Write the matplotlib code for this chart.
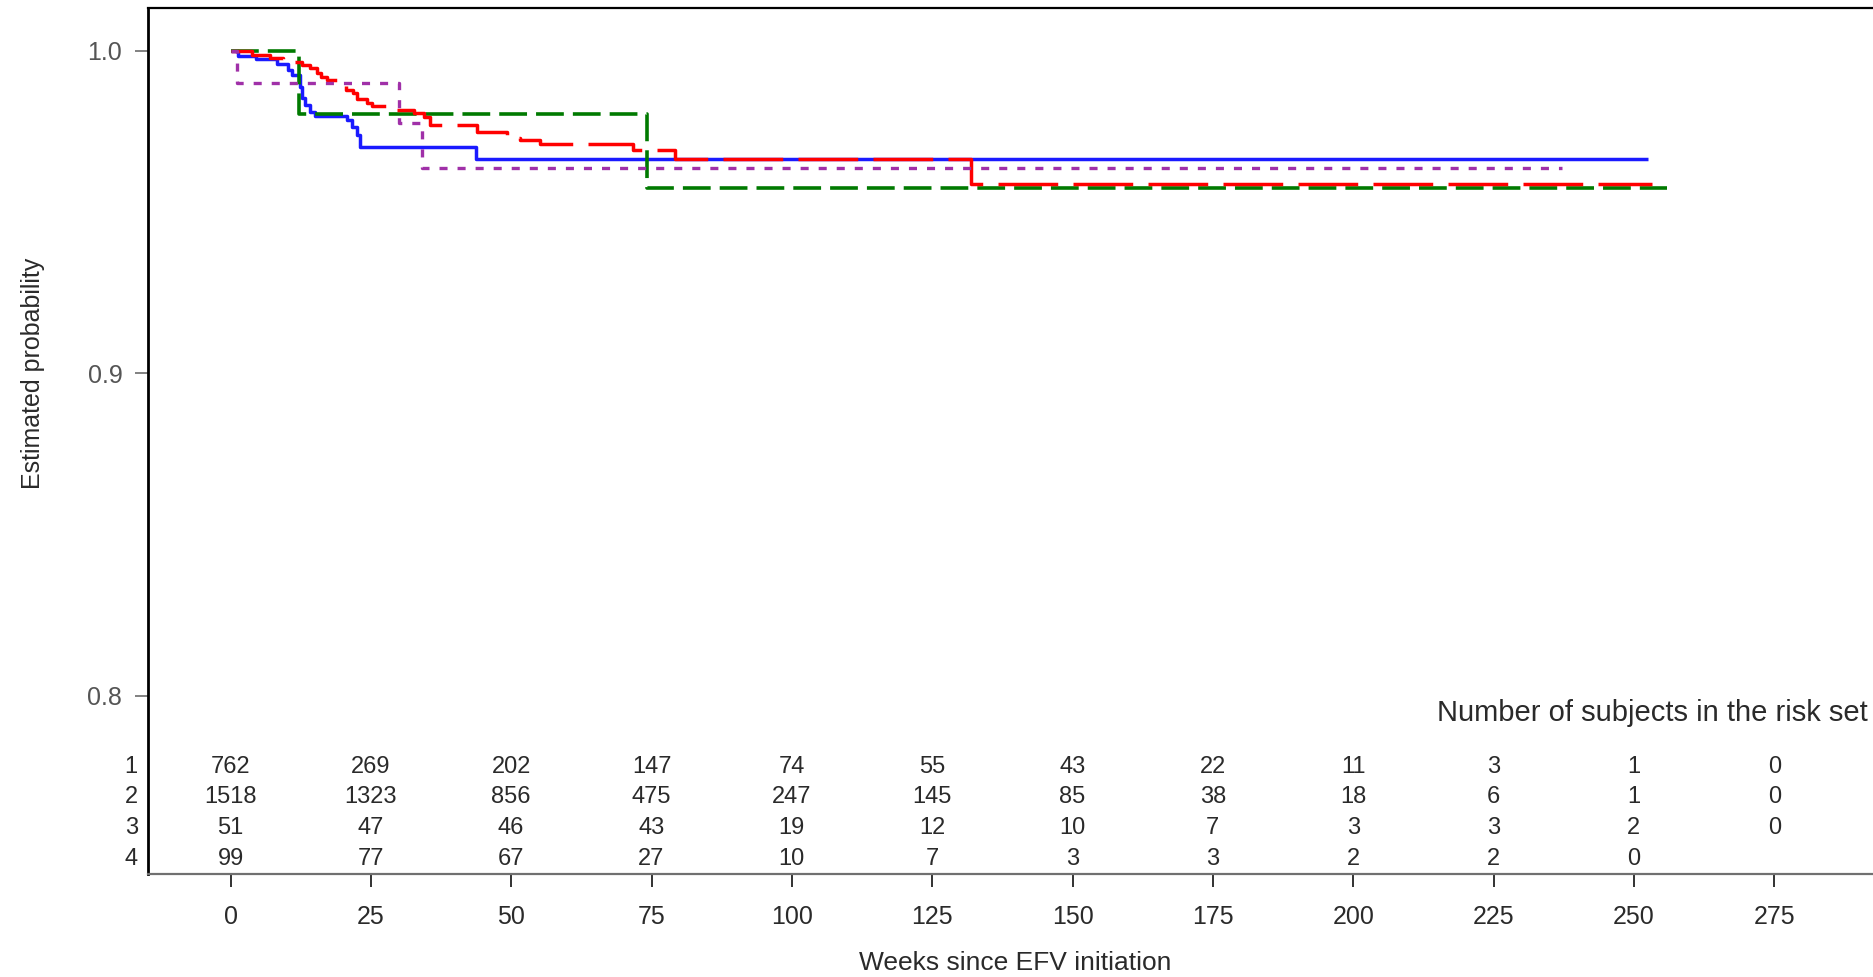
import matplotlib
matplotlib.use("Agg")
import matplotlib.pyplot as plt

plt.rcParams['font.family'] = ['Liberation Sans', 'DejaVu Sans']
plt.rcParams['lines.scale_dashes'] = False

# ---- data ----
blue_x = [0, 1.4, 4.5, 8.2, 10.3, 10.9, 12.4, 12.7, 13.3, 14.2, 15.0, 20.7, 21.6, 22.5, 23.1, 43.7, 252.6]
blue_y = [1.0, 0.9985, 0.9975, 0.996, 0.9941, 0.9926, 0.9889, 0.9853, 0.9833, 0.9812, 0.9798,
          0.9786, 0.9765, 0.974, 0.9703, 0.9666, 0.9666]

red_x = [0, 3.8, 7.0, 9.4, 12.7, 14.2, 15.4, 16.2, 17.1, 19.5, 20.6, 21.9, 22.5, 24.3, 25.2,
         28.5, 32.6, 34.5, 35.6, 43.9, 49.2, 51.5, 55.1, 71.7, 79.1, 132.0, 253.2]
red_y = [1.0, 0.9988, 0.9977, 0.9967, 0.9957, 0.9946, 0.9931, 0.9918, 0.9910, 0.9895, 0.9880,
         0.9869, 0.9852, 0.9840, 0.9828, 0.9818, 0.9808, 0.9796, 0.9771, 0.9747, 0.9731, 0.9724,
         0.9711, 0.9694, 0.9666, 0.9588, 0.9588]

green_x = [0, 12.2, 74.2, 255.9]
green_y = [1.0, 0.9804, 0.9576, 0.9576]

purple_x = [0, 1.2, 30.0, 34.2, 237.2]
purple_y = [1.0, 0.9899, 0.9775, 0.9636, 0.9636]

x_ticks = [0, 25, 50, 75, 100, 125, 150, 175, 200, 225, 250, 275]
y_ticks = [0.8, 0.9, 1.0]
y_ticklabels = ["0.8", "0.9", "1.0"]

risk_labels = ["1", "2", "3", "4"]
risk_1 = [762, 269, 202, 147, 74, 55, 43, 22, 11, 3, 1, 0]
risk_2 = [1518, 1323, 856, 475, 247, 145, 85, 38, 18, 6, 1, 0]
risk_3 = [51, 47, 46, 43, 19, 12, 10, 7, 3, 3, 2, 0]
risk_4 = [99, 77, 67, 27, 10, 7, 3, 3, 2, 2, 0]
risk_rows = [risk_1, risk_2, risk_3, risk_4]

# ---- figure ----
W, H = 1873, 977
fig = plt.figure(figsize=(W / 100, H / 100), dpi=100)
left_px, right_px, top_px, bottom_px = 148, 1873, 8, 874
ax = fig.add_axes([left_px / W, 1 - bottom_px / H, (right_px - left_px) / W, (bottom_px - top_px) / H])

txt_color = '#2a2a2a'

ax.plot(blue_x, blue_y, drawstyle='steps-post', color='#1a1aff', lw=2.5, zorder=3,
        solid_capstyle='butt')
ax.plot(green_x, green_y, drawstyle='steps-post', color='#007a00', lw=2.6, zorder=4,
        linestyle=(0, (20, 6.5)), dash_capstyle='butt')
ax.plot(red_x, red_y, drawstyle='steps-post', color='#ff0000', lw=2.5, zorder=5,
        linestyle=(0, (43, 11)), dash_capstyle='butt')
ax.plot(purple_x, purple_y, drawstyle='steps-post', color='#a030a8', lw=2.4, zorder=6,
        linestyle=(0, (5.8, 7.2)), dash_capstyle='butt')

ax.set_xlim(-14.7, 292.6)
ax.set_ylim(0.7448, 1.0133)

ax.set_xticks(x_ticks)
ax.set_xticklabels([str(t) for t in x_ticks])
ax.set_yticks(y_ticks)
ax.set_yticklabels(y_ticklabels)
ax.tick_params(axis='x', direction='out', length=9.5, width=1.3, pad=13,
               labelsize=18, colors='#222222', labelcolor=txt_color)
ax.tick_params(axis='y', direction='out', length=9.5, width=1.3, pad=9,
               labelsize=18, colors='#777777', labelcolor='#555555')

ax.spines['right'].set_visible(False)
ax.spines['left'].set_linewidth(2.0)
ax.spines['left'].set_color('black')
ax.spines['top'].set_linewidth(1.6)
ax.spines['top'].set_color('black')
ax.spines['bottom'].set_linewidth(1.6)
ax.spines['bottom'].set_color('#707070')

ax.set_xlabel("Weeks since EFV initiation", fontsize=19, color=txt_color, va='center')
ax.xaxis.set_label_coords(0.5026, -0.1028)
ax.set_ylabel("Estimated probability", fontsize=18, color=txt_color, va='center')
ax.yaxis.set_label_coords(-0.0667, 0.5785)

# risk table
row_y = [0.7780, 0.7687, 0.7591, 0.7495]
for lab, yy, row in zip(risk_labels, row_y, risk_rows):
    ax.text(-17.7, yy, lab, ha='center', va='center', fontsize=17, color=txt_color, clip_on=False)
    for xv, n in zip(x_ticks, row):
        ax.text(xv, yy, str(n), ha='center', va='center', fontsize=17, color=txt_color)

ax.text(214.9, 0.7947, "Number of subjects in the risk set", ha='left', va='center',
        fontsize=21, color=txt_color, clip_on=False)

fig.savefig("out.png", dpi=100)
